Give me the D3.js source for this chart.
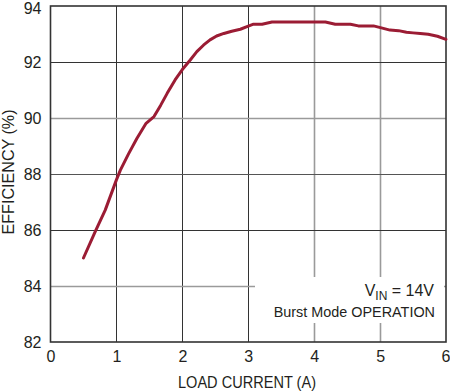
<!DOCTYPE html>
<html><head><meta charset="utf-8">
<script src="https://cdn.jsdelivr.net/npm/d3@7"></script>
<style>body{margin:0;background:#fff}svg{display:block}text{font-family:"Liberation Sans",Arial,sans-serif;fill:#231f20}</style>
</head><body><svg id="c" width="450" height="392"></svg>
<script>
const loadCurrent = [0.5,0.68,0.83,1.0,1.06,1.18,1.31,1.45,1.57,1.67,1.77,1.89,2.0,2.12,2.22,2.32,2.42,2.52,2.63,2.75,2.88,3.0,3.08,3.21,3.36,3.6,3.8,4.0,4.17,4.32,4.55,4.67,4.9,5.02,5.15,5.28,5.4,5.5,5.61,5.73,5.87,6.0];
const efficiency  = [85.0,85.95,86.71,87.79,88.14,88.7,89.27,89.81,90.05,90.45,90.88,91.36,91.73,92.07,92.37,92.6,92.79,92.93,93.02,93.1,93.17,93.28,93.35,93.35,93.43,93.43,93.43,93.43,93.43,93.35,93.35,93.29,93.29,93.22,93.14,93.12,93.06,93.04,93.02,92.99,92.92,92.81];
const xTicks = [0,1,2,3,4,5,6];
const yTicks = [82,84,86,88,90,92,94];
const xTitle = "LOAD CURRENT (A)";
const yTitle = "EFFICIENCY (%)";
const legendLines = ["V_IN = 14V","Burst Mode OPERATION"];

const svg = d3.select("#c");
const L=50.5, R=446, T=6, B=342;
const x = d3.scaleLinear().domain([0,6]).range([L,R]);
const y = d3.scaleLinear().domain([82,94]).range([B,T]);

const darkV = {1:1,2:1,3:1};
const darkH = {92:"#333",88:"#555",86:"#333"};
svg.append("g").selectAll("line").data(xTicks.filter(d=>d>0&&d<6)).join("line")
  .attr("x1",d=>Math.round(x(d))+0.5).attr("x2",d=>Math.round(x(d))+0.5)
  .attr("y1",T).attr("y2",B)
  .attr("stroke",d=>darkV[d]?"#333":"#9a9a9a").attr("stroke-width",d=>darkV[d]?1:1.6);
svg.append("g").selectAll("line").data(yTicks.filter(d=>d>82&&d<94)).join("line")
  .attr("y1",d=>Math.round(y(d))+0.5).attr("y2",d=>Math.round(y(d))+0.5)
  .attr("x1",L).attr("x2",R)
  .attr("stroke",d=>darkH[d]||"#9a9a9a").attr("stroke-width",d=>darkH[d]?1:1.6);

svg.append("rect").attr("x",255).attr("y",277).attr("width",189).attr("height",46).attr("fill","#fff");

svg.append("rect").attr("x",L).attr("y",T).attr("width",R-L).attr("height",B-T)
  .attr("fill","none").attr("stroke","#333").attr("stroke-width",1.6);

const pts = loadCurrent.map((v,i)=>[v,efficiency[i]]);
svg.append("path").datum(pts)
  .attr("d",d3.line().x(d=>x(d[0])).y(d=>y(d[1])).curve(d3.curveLinear))
  .attr("fill","none").attr("stroke","#9b1c34").attr("stroke-width",3).attr("stroke-linejoin","round").attr("stroke-linecap","round");

const xa = d3.axisBottom(x).tickValues(xTicks).tickFormat(d3.format("d")).tickSize(0).tickPadding(9);
const gx = svg.append("g").attr("transform",`translate(0,${B})`).call(xa);
gx.select(".domain").remove();
gx.selectAll("text").attr("font-size",16).attr("font-family","Liberation Sans, Arial, sans-serif").attr("fill","#231f20");
gx.selectAll(".tick").filter(d=>d===6).select("text").attr("text-anchor","end").attr("dx",4);
const ya = d3.axisLeft(y).tickValues(yTicks).tickFormat(d3.format("d")).tickSize(0).tickPadding(9);
const gy = svg.append("g").attr("transform",`translate(${L},0)`).call(ya);
gy.select(".domain").remove();
gy.selectAll("text").attr("font-size",16).attr("font-family","Liberation Sans, Arial, sans-serif").attr("fill","#231f20");
gy.selectAll(".tick").filter(d=>d===94).select("text").attr("dy","0.45em");

svg.append("text").attr("x",247).attr("y",388).attr("text-anchor","middle").attr("font-size",16)
  .attr("textLength",138).attr("lengthAdjust","spacingAndGlyphs").text(xTitle);
svg.append("text").attr("transform","translate(14,172) rotate(-90)").attr("text-anchor","middle").attr("font-size",16)
  .attr("textLength",125).attr("lengthAdjust","spacingAndGlyphs").text(yTitle);

const [lv, rest] = legendLines[0].split("_");
const sub = rest.split(" ")[0];
const t1 = svg.append("text").attr("x",434).attr("y",296).attr("text-anchor","end").attr("font-size",16);
t1.append("tspan").text(lv);
t1.append("tspan").attr("font-size",12).attr("dy",4).text(sub);
t1.append("tspan").attr("dy",-4).text(rest.slice(sub.length));
svg.append("text").attr("x",435).attr("y",317).attr("text-anchor","end").attr("font-size",14.4)
  .text(legendLines[1]);
</script></body></html>
